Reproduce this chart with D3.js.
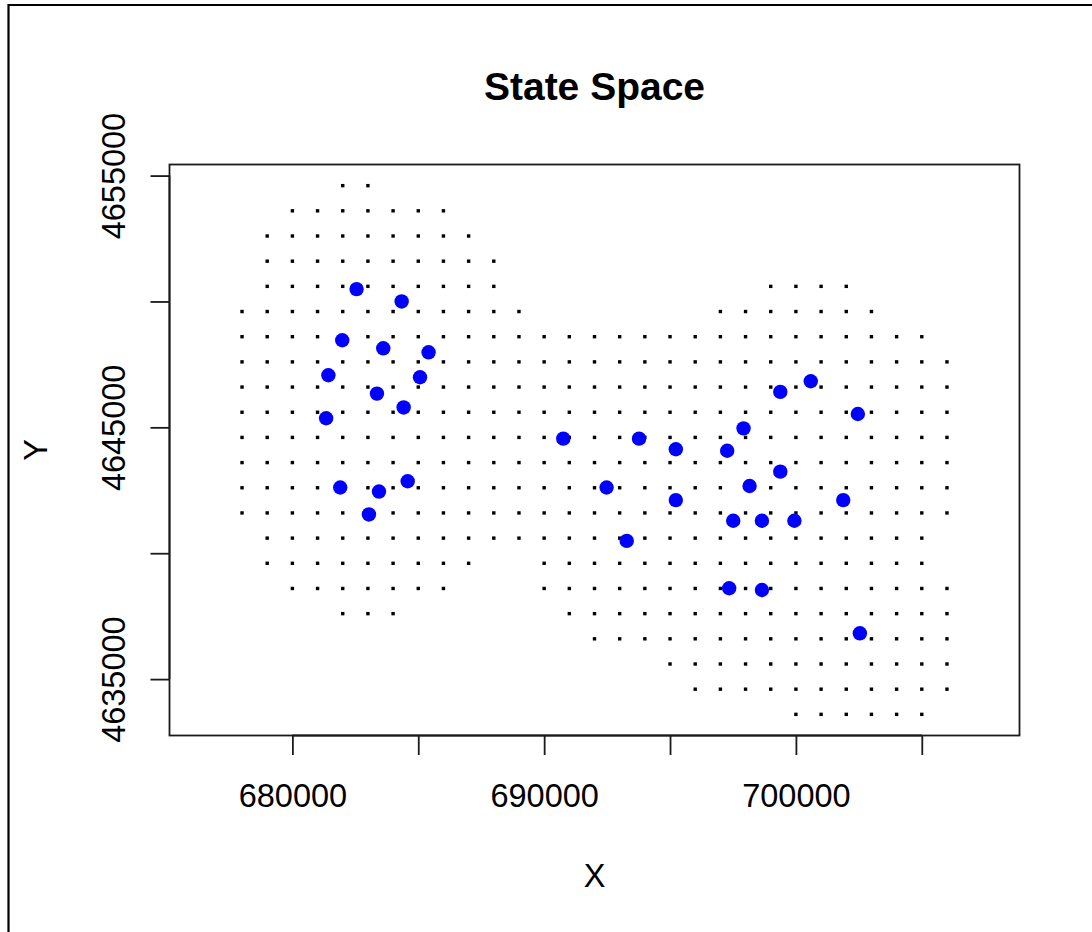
<!DOCTYPE html>
<html>
<head>
<meta charset="utf-8">
<script src="https://cdn.jsdelivr.net/npm/d3@7"></script>
<style>
  html, body { margin: 0; padding: 0; background: #fff; }
  svg { display: block; }
  text { font-family: "Liberation Sans", Arial, sans-serif; fill: #000; }
</style>
</head>
<body>
<svg id="chart" width="1092" height="932"></svg>
<script>
// State-space grid (1 km spacing): each entry is one row segment [y, xStart, xEnd]
const stateRows = [
  [4654600, 682000, 683000],
  [4653600, 680000, 686000],
  [4652600, 679000, 687000],
  [4651600, 679000, 688000],
  [4650600, 679000, 688000], [4650600, 699000, 702000],
  [4649600, 678000, 689000], [4649600, 697000, 703000],
  [4648600, 678000, 705000],
  [4647600, 678000, 706000],
  [4646600, 678000, 706000],
  [4645600, 678000, 706000],
  [4644600, 678000, 706000],
  [4643600, 678000, 706000],
  [4642600, 678000, 706000],
  [4641600, 678000, 706000],
  [4640600, 679000, 705000],
  [4639600, 679000, 687000], [4639600, 690000, 705000],
  [4638600, 680000, 686000], [4638600, 690000, 706000],
  [4637600, 682000, 684000], [4637600, 691000, 706000],
  [4636600, 692000, 706000],
  [4635600, 695000, 706000],
  [4634600, 696000, 706000],
  [4633600, 700000, 705000]
];
const gridStep = 1000;

// Trap / detector locations
const trapX = [
  682550, 684340, 681980, 683610, 685410, 681430, 685070, 683360, 684420, 681340,
  681900, 683440, 684580, 683040,
  699380, 700590, 702460, 690760, 693770, 695230, 697920, 697270, 699380, 692480,
  698160, 695230, 701880, 697510, 698650, 699940, 693280, 697350, 698650, 702540
];
const trapY = [
  4650490, 4650000, 4648460, 4648140, 4647980, 4647070, 4646990, 4646340, 4645790, 4645360,
  4642610, 4642450, 4642860, 4641540,
  4646410, 4646830, 4645530, 4644550, 4644550, 4644130, 4644960, 4644070, 4643240, 4642610,
  4642670, 4642110, 4642110, 4641290, 4641290, 4641290, 4640490, 4638610, 4638540, 4636820
];

const xTickValues = [680000, 685000, 690000, 695000, 700000, 705000];
const xTickLabels = ["680000", "", "690000", "", "700000", ""];
const yTickValues = [4635000, 4640000, 4645000, 4650000, 4655000];
const yTickLabels = ["4635000", "", "4645000", "", "4655000"];

const titleText = "State Space";
const xLabel = "X";
const yLabel = "Y";

// Build grid points from row segments
const gridPts = [];
stateRows.forEach(([y, x0, x1]) => {
  d3.range(x0, x1 + gridStep / 2, gridStep).forEach(x => gridPts.push({ x, y }));
});
const traps = trapX.map((x, i) => ({ x, y: trapY[i] }));

const svg = d3.select("#chart");
const W = 1092, H = 932;
const plot = { left: 169.5, right: 1019.5, top: 164.5, bottom: 735.5 };
const pw = plot.right - plot.left, ph = plot.bottom - plot.top;

// Axis ranges padded by 4% with an equal aspect ratio (1 unit x == 1 unit y)
const xExt = d3.extent(gridPts, d => d.x);
const yExt = d3.extent(gridPts, d => d.y);
const padY = (yExt[1] - yExt[0]) * 0.04;
const padX = (xExt[1] - xExt[0]) * 0.04;
let yDom = [yExt[0] - padY, yExt[1] + padY];
let xDom = [xExt[0] - padX, xExt[1] + padX];
const ppu = Math.min(pw / (xDom[1] - xDom[0]), ph / (yDom[1] - yDom[0]));
const xc = (xDom[0] + xDom[1]) / 2, yc = (yDom[0] + yDom[1]) / 2;
xDom = [xc - pw / 2 / ppu, xc + pw / 2 / ppu];
yDom = [yc - ph / 2 / ppu, yc + ph / 2 / ppu];

const x = d3.scaleLinear().domain(xDom).range([plot.left, plot.right]);
const y = d3.scaleLinear().domain(yDom).range([plot.bottom, plot.top]);

// Outer frame (top and left edges)
svg.append("line").attr("x1", 8.5).attr("x2", W).attr("y1", 5).attr("y2", 5)
  .attr("stroke", "#000").attr("stroke-width", 2.2);
svg.append("line").attr("x1", 8.5).attr("x2", 8.5).attr("y1", 4).attr("y2", H)
  .attr("stroke", "#000").attr("stroke-width", 2.2);

// Grid points (small squares)
const ds = 3.4;
svg.append("g").selectAll("rect").data(gridPts).join("rect")
  .attr("x", d => x(d.x) - ds / 2).attr("y", d => y(d.y) - ds / 2)
  .attr("width", ds).attr("height", ds).attr("fill", "#000");

// Traps (filled blue circles)
svg.append("g").selectAll("circle").data(traps).join("circle")
  .attr("cx", d => x(d.x)).attr("cy", d => y(d.y)).attr("r", 7.2)
  .attr("fill", "#0000ff");

// Plot box
svg.append("rect").attr("x", plot.left).attr("y", plot.top)
  .attr("width", pw).attr("height", ph)
  .attr("fill", "none").attr("stroke", "#1a1a1a").attr("stroke-width", 1.8);

const fs = 32.5;
// Bottom axis
const xAxis = d3.axisBottom(x).tickValues(xTickValues)
  .tickFormat((d, i) => xTickLabels[i]).tickSize(19.5).tickPadding(0);
const gx = svg.append("g").attr("transform", `translate(0,${plot.bottom})`).call(xAxis);
gx.select(".domain").attr("stroke", "#1a1a1a").attr("stroke-width", 1.8)
  .attr("d", `M${x(xTickValues[0])},0H${x(xTickValues[xTickValues.length - 1])}`);
gx.selectAll(".tick line").attr("stroke", "#1a1a1a").attr("stroke-width", 1.8);
gx.selectAll(".tick text").attr("font-size", fs).attr("fill", "#000")
  .attr("font-family", "'Liberation Sans', Arial, sans-serif")
  .attr("dy", null).attr("y", 806.5 - plot.bottom);

// Left axis (labels rotated, reading upward)
const yAxis = d3.axisLeft(y).tickValues(yTickValues)
  .tickFormat((d, i) => yTickLabels[i]).tickSize(19).tickPadding(0);
const gy = svg.append("g").attr("transform", `translate(${plot.left},0)`).call(yAxis);
gy.select(".domain").attr("stroke", "#1a1a1a").attr("stroke-width", 1.8)
  .attr("d", `M0,${y(yTickValues[0])}V${y(yTickValues[yTickValues.length - 1])}`);
gy.selectAll(".tick line").attr("stroke", "#1a1a1a").attr("stroke-width", 1.8);
gy.selectAll(".tick text").attr("font-size", fs).attr("fill", "#000")
  .attr("font-family", "'Liberation Sans', Arial, sans-serif")
  .attr("x", null).attr("dy", null).attr("text-anchor", "middle")
  .attr("transform", `translate(${125 - plot.left},0) rotate(-90)`);

// Title and axis labels
svg.append("text").attr("x", (plot.left + plot.right) / 2).attr("y", 99.5)
  .attr("text-anchor", "middle").attr("font-weight", "bold").attr("font-size", 39)
  .text(titleText);
svg.append("text").attr("x", (plot.left + plot.right) / 2).attr("y", 886.5)
  .attr("text-anchor", "middle").attr("font-size", fs).text(xLabel);
svg.append("text").attr("transform", `translate(46.5,${(plot.top + plot.bottom) / 2}) rotate(-90)`)
  .attr("text-anchor", "middle").attr("font-size", fs).text(yLabel);
</script>
</body>
</html>
